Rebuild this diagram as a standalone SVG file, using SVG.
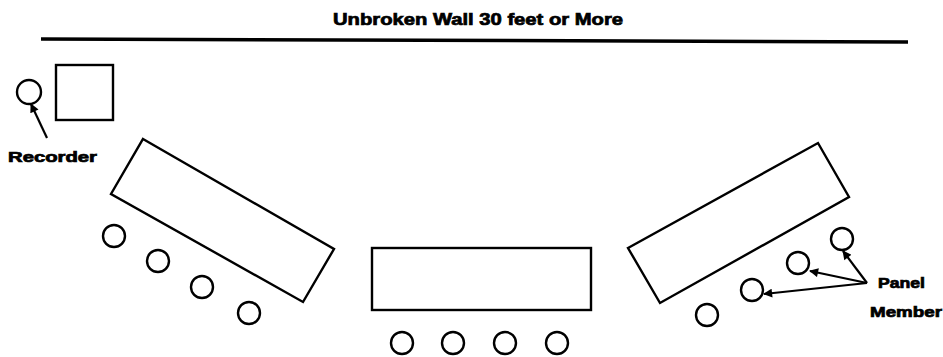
<svg xmlns="http://www.w3.org/2000/svg" width="943" height="357" viewBox="0 0 943 357">
<style>
.s{fill:none;stroke:#000;stroke-width:2.4}
.t{font-family:"Liberation Sans",Arial,sans-serif;font-weight:bold;fill:#000;stroke:#000;stroke-width:0.7}
.c{stroke:#000;stroke-width:2.2;fill:none}
</style>
<defs>
<marker id="ah" viewBox="0 0 10 10" refX="9" refY="5" markerWidth="12" markerHeight="9" orient="auto" markerUnits="userSpaceOnUse">
<path d="M0,0 L10,5 L0,10 Z" fill="#000"/>
</marker>
</defs>
<rect width="943" height="357" fill="#fff"/>
<g id="wall">
<text class="t" x="333" y="25" font-size="16" textLength="290" lengthAdjust="spacingAndGlyphs">Unbroken Wall 30 feet or More</text>
<line x1="41" y1="39" x2="908" y2="42" stroke="#000" stroke-width="3.5"/>
</g>
<g id="recorder-table"><rect class="s" x="56" y="65" width="57" height="55"/></g>
<g id="recorder"><circle class="s" cx="29" cy="92" r="12"/>
<text class="t" x="8" y="162" font-size="14" textLength="89" lengthAdjust="spacingAndGlyphs">Recorder</text></g>
<g id="table-left"><polygon class="s" points="143,139 334,249 303,302 111,194"/></g>
<g id="table-center"><rect class="s" x="372" y="248" width="219" height="62"/></g>
<g id="table-right"><polygon class="s" points="628,248 818,143 849,197 660,303"/></g>
<g id="seats-left">
<circle class="s" cx="114" cy="236" r="11"/>
<circle class="s" cx="158" cy="261" r="11"/>
<circle class="s" cx="202" cy="287" r="11"/>
<circle class="s" cx="249" cy="313" r="11"/>
</g>
<g id="seats-center">
<circle class="s" cx="402" cy="343" r="11"/>
<circle class="s" cx="453" cy="343" r="11"/>
<circle class="s" cx="505" cy="343" r="11"/>
<circle class="s" cx="557" cy="343" r="11"/>
</g>
<g id="seats-right">
<circle class="s" cx="842" cy="239" r="11"/>
<circle class="s" cx="798" cy="263" r="11"/>
<circle class="s" cx="752" cy="290" r="11"/>
<circle class="s" cx="707" cy="315" r="11"/>
</g>
<g id="panel-label">
<text class="t" x="878" y="288" font-size="14" textLength="47" lengthAdjust="spacingAndGlyphs">Panel</text>
<text class="t" x="870" y="317" font-size="14" textLength="72" lengthAdjust="spacingAndGlyphs">Member</text>
</g>
<g id="connectors">
<line class="c" x1="47" y1="138" x2="31" y2="104" marker-end="url(#ah)"/>
<line class="c" x1="867" y1="283" x2="843" y2="251" marker-end="url(#ah)"/>
<line class="c" x1="867" y1="283" x2="810" y2="271" marker-end="url(#ah)"/>
<line class="c" x1="867" y1="283" x2="764" y2="294" marker-end="url(#ah)"/>
</g>
</svg>
